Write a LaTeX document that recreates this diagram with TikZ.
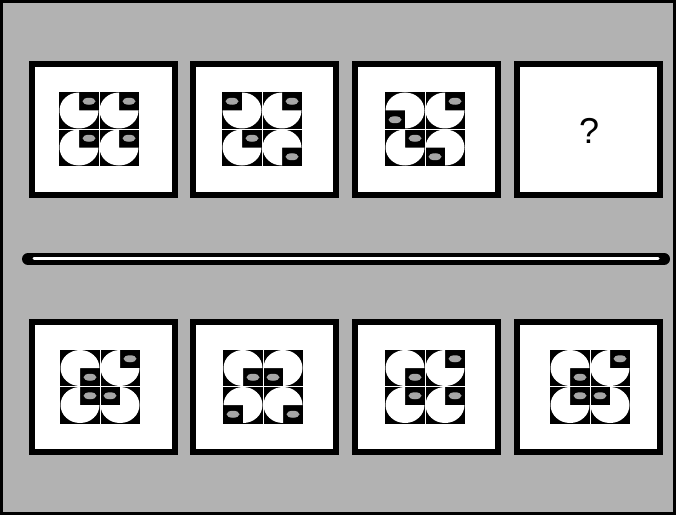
\documentclass[tikz,border=0pt]{standalone}
\usepackage{fontspec}
\newfontfamily\qfont{Liberation Sans}
\tikzset{
  panel/.style={draw=black, fill=white, line width=6pt, minimum width=143pt, minimum height=130pt, inner sep=0pt},
  gridline/.style={draw=white, line width=0.5pt},
  speck/.style={fill=black!35},
}
% one cell: centre x, centre y, start angle of the missing quarter
\newcommand\cellq[3]{%
  \fill[black] ({#1-20},{#2-18.5}) rectangle ({#1+20},{#2+18.5});
  \fill[white] ({#1},{#2}) -- ++({#3+90}:19.5 and 18) arc[start angle={#3+90}, end angle={#3+360}, x radius=19.5, y radius=18] -- cycle;
  \fill[speck] ({#1},{#2}) ++({#3+45}:14.14 and 13.08) ellipse[x radius=6.5, y radius=3.5];
}
% motif: centre x, centre y, quarters of TL, TR, BL, BR cells
\newcommand\motifq[6]{%
  \cellq{#1-20}{#2+18.5}{#3}
  \cellq{#1+20}{#2+18.5}{#4}
  \cellq{#1-20}{#2-18.5}{#5}
  \cellq{#1+20}{#2-18.5}{#6}
  \draw[gridline] ({#1-40},{#2}) -- ({#1+40},{#2}) ({#1},{#2-37}) -- ({#1},{#2+37});
}
\begin{document}
\begin{tikzpicture}[x=1pt, y=1pt]
  \useasboundingbox (0,0) rectangle (676,515);
  \fill[black!30] (0,0) rectangle (676,515);
  \draw[line width=3pt] (1.5,1.5) rectangle (674.5,513.5);

  % top row
  \node[panel] (p1) at (103.5,385.5) {};
  \node[panel] (p2) at (264.5,385.5) {};
  \node[panel] (p3) at (426.5,385.5) {};
  \node[panel] (p4) at (588.5,385.5) {};
  \node[font=\qfont\fontsize{36}{40}\selectfont, inner sep=0pt] (q) at (589,384) {?};

  \motifq{99}{386}{0}{0}{0}{0}
  \motifq{262}{386}{90}{0}{0}{270}
  \motifq{425}{386}{180}{0}{0}{180}

  % separator
  \draw[line width=12pt, line cap=round] (28,256) -- (664,256);
  \draw[white, line width=3pt, line cap=round] (34,257) -- (658,257);

  % bottom row
  \node[panel] (p5) at (103.5,128) {};
  \node[panel] (p6) at (264.5,128) {};
  \node[panel] (p7) at (426.5,128) {};
  \node[panel] (p8) at (588.5,128) {};

  \motifq{100}{128.5}{270}{0}{0}{90}
  \motifq{263}{128.5}{270}{180}{180}{270}
  \motifq{425}{128.5}{270}{0}{0}{0}
  \motifq{590}{128.5}{270}{0}{0}{90}
\end{tikzpicture}
\end{document}
